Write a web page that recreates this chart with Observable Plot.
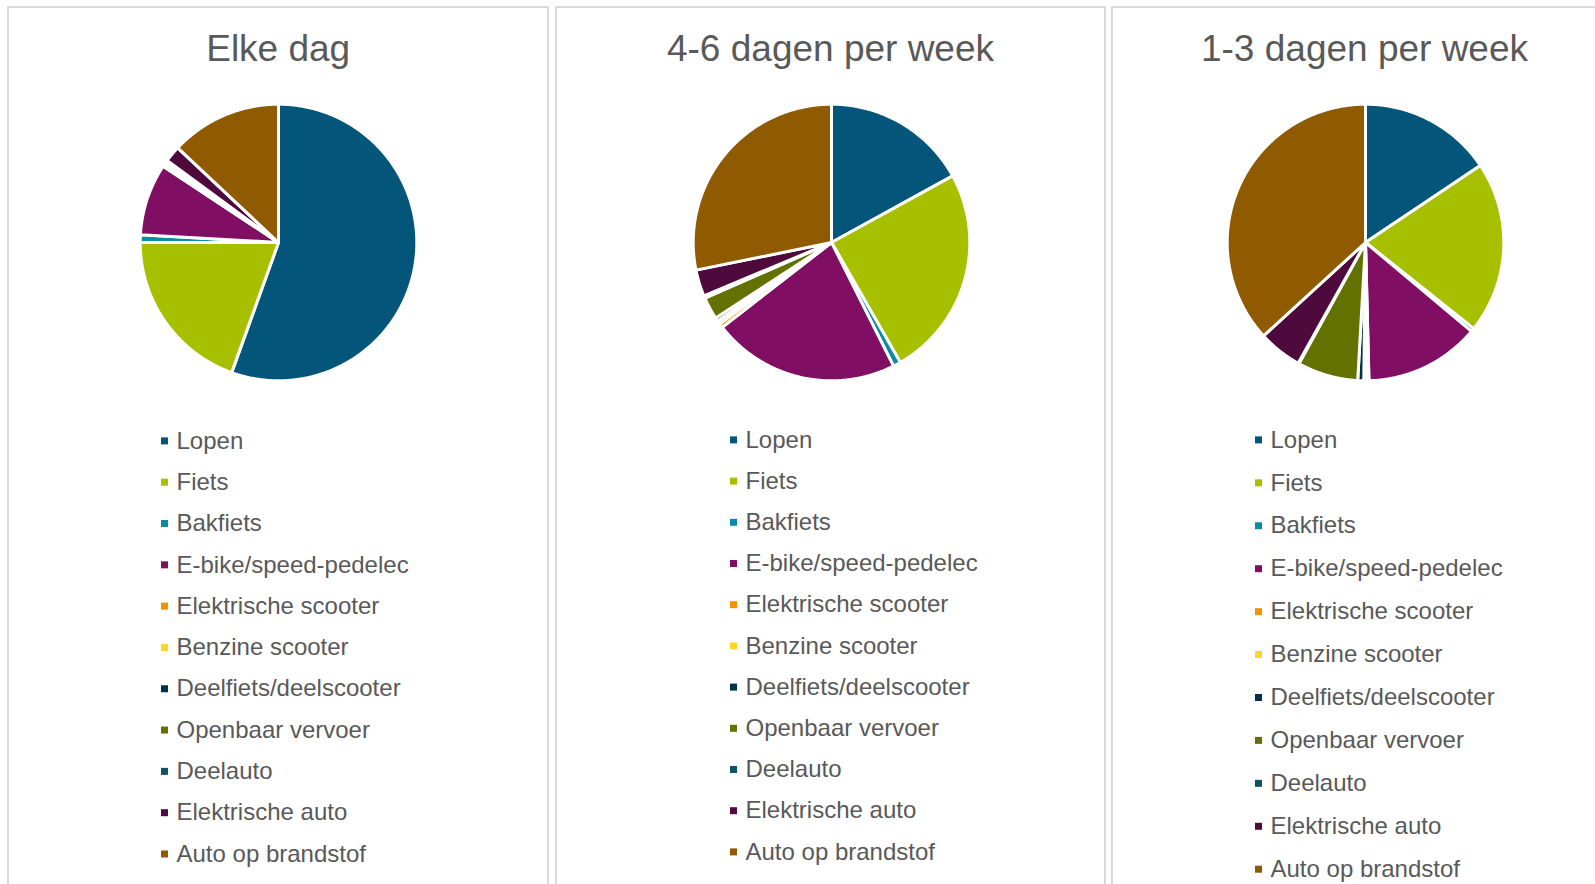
<!DOCTYPE html>
<html><head><meta charset="utf-8">
<script src="https://cdn.jsdelivr.net/npm/d3@7"></script>
<script src="https://cdn.jsdelivr.net/npm/@observablehq/plot@0.6"></script>
<style>
html,body{margin:0;padding:0;background:#fff;}
#page{position:relative;width:1595px;height:884px;overflow:hidden;font-family:"Liberation Sans",Arial,sans-serif;}
.panel{position:absolute;top:6px;height:900px;border:2px solid #d9d9d9;box-sizing:border-box;}
.title{position:absolute;width:600px;text-align:center;font-size:37px;line-height:37px;color:#595959;top:30.2px;white-space:nowrap;}
.abs{position:absolute;}
.abs svg{background:transparent;max-width:none;}
</style></head><body><div id="page"></div>
<script>
const categories = ["Lopen","Fiets","Bakfiets","E-bike/speed-pedelec","Elektrische scooter","Benzine scooter","Deelfiets/deelscooter","Openbaar vervoer","Deelauto","Elektrische auto","Auto op brandstof"];
const colors = ["#03567A","#A6C000","#0A8BA8","#800F63","#F39200","#FFD52A","#00314A","#637100","#0B5468","#4E0A3C","#8F5A00"];
const titles = ["Elke dag","4-6 dagen per week","1-3 dagen per week"];
const elkeDag = [55.5, 19.5, 0.9, 8.4, 0.16, 0.16, 0.16, 0.16, 0.16, 1.9, 13.0];
const dagen46 = [17.0, 24.7, 0.9, 21.9, 0.5, 0.4, 0.4, 2.6, 0.3, 3.1, 28.2];
const dagen13 = [15.6, 20.1, 0.4, 13.5, 0.2, 0.4, 0.7, 7.1, 0.1, 5.1, 36.8];
const series = [elkeDag, dagen46, dagen13];

const layout = [
  {left:7,   width:542, cx:278.2,  cy:241.6, legX:163.8,  legY0:440.4, legY1:853.5},
  {left:555, width:551, cx:830.5,  cy:241.7, legX:733.4,  legY0:439.4, legY1:851.4},
  {left:1111,width:600, cx:1364.5, cy:241.7, legX:1257.5, legY0:439.4, legY1:868.7}
];

const page = document.getElementById("page");
const R = 138.3, S = 320, LEGTOP = 415;

function slicePoints(values){
  const arcs = d3.pie().sort(null).value(d => d)(values);
  const pts = [];
  arcs.forEach((a, i) => {
    const cat = categories[i];
    pts.push({cat, x:0, y:0});
    const n = Math.max(2, Math.ceil((a.endAngle - a.startAngle) / (Math.PI / 360)));
    for (let k = 0; k <= n; k++) {
      const t = a.startAngle + (a.endAngle - a.startAngle) * k / n;
      pts.push({cat, x:Math.sin(t), y:Math.cos(t)});
    }
    pts.push({cat, x:0, y:0});
  });
  return pts;
}

series.forEach((values, p) => {
  const L = layout[p];
  const panel = document.createElement("div");
  panel.className = "panel";
  panel.style.left = L.left + "px";
  panel.style.width = L.width + "px";
  page.appendChild(panel);

  const t = document.createElement("div");
  t.className = "title";
  t.textContent = titles[p];
  t.style.left = (L.cx - 300) + "px";
  page.appendChild(t);

  const pie = Plot.plot({
    width:S, height:S, margin:0,
    style:{background:"transparent"},
    x:{domain:[-1,1], range:[S/2 - R, S/2 + R], axis:null},
    y:{domain:[-1,1], range:[S/2 + R, S/2 - R], axis:null},
    color:{domain:categories, range:colors},
    marks:[
      Plot.line(slicePoints(values), {x:"x", y:"y", z:"cat", fill:"cat", stroke:"white", strokeWidth:3, strokeLinejoin:"round"})
    ]
  });
  const pw = document.createElement("div");
  pw.className = "abs";
  pw.style.left = (L.cx - S/2) + "px";
  pw.style.top = (L.cy - S/2) + "px";
  pw.appendChild(pie);
  page.appendChild(pw);

  const leg = Plot.plot({
    width:320, height:470, margin:0,
    style:{background:"transparent", fontFamily:"'Liberation Sans', Arial, sans-serif"},
    x:{domain:[0,1], range:[10,310], axis:null},
    y:{type:"point", padding:0, round:false, domain:categories, range:[L.legY0 - LEGTOP, L.legY1 - LEGTOP], axis:null},
    color:{domain:categories, range:colors},
    marks:[
      Plot.dot(categories, {x:0, y:d => d, symbol:"square", r:3.95, fill:d => d, stroke:null}),
      Plot.text(categories, {x:0, y:d => d, text:d => d, dx:12, textAnchor:"start", fontSize:24, fill:"#595959"})
    ]
  });
  const lw = document.createElement("div");
  lw.className = "abs";
  lw.style.left = (L.legX - 10) + "px";
  lw.style.top = LEGTOP + "px";
  lw.appendChild(leg);
  page.appendChild(lw);
});
</script></body></html>
